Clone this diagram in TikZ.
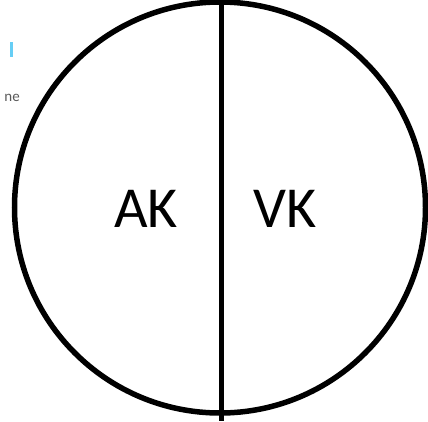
\documentclass[tikz,border=0pt]{standalone}
\usepackage{fontspec}
\setmainfont{Carlito}
\begin{document}
\begin{tikzpicture}[x=1pt,y=-1pt,
  ring/.style={draw=black,line width=5.5pt},
  divider/.style={draw=black,line width=5pt},
  big/.style={font=\fontsize{58}{60}\selectfont,inner sep=0pt},
  frag/.style={font=\fontsize{15}{16}\selectfont,text=black!65,inner sep=0pt}]
\useasboundingbox[fill=white] (0,0) rectangle (428,421);
\coordinate (c) at (220,207.5);
\draw[ring] (c) circle[radius=205.5pt];
\coordinate (top) at (221,0);
\coordinate (bot) at (221,421);
\draw[divider] (top) -- (bot);
\node[big,anchor=base] (ak) at (146,227) {AK};
\node[big,anchor=base] (vk) at (285,227) {VK};
\node[frag,anchor=base east] (ne) at (20,101) {ne};
\fill[cyan!60!white] (10,42) rectangle (13,57);
\end{tikzpicture}
\end{document}
